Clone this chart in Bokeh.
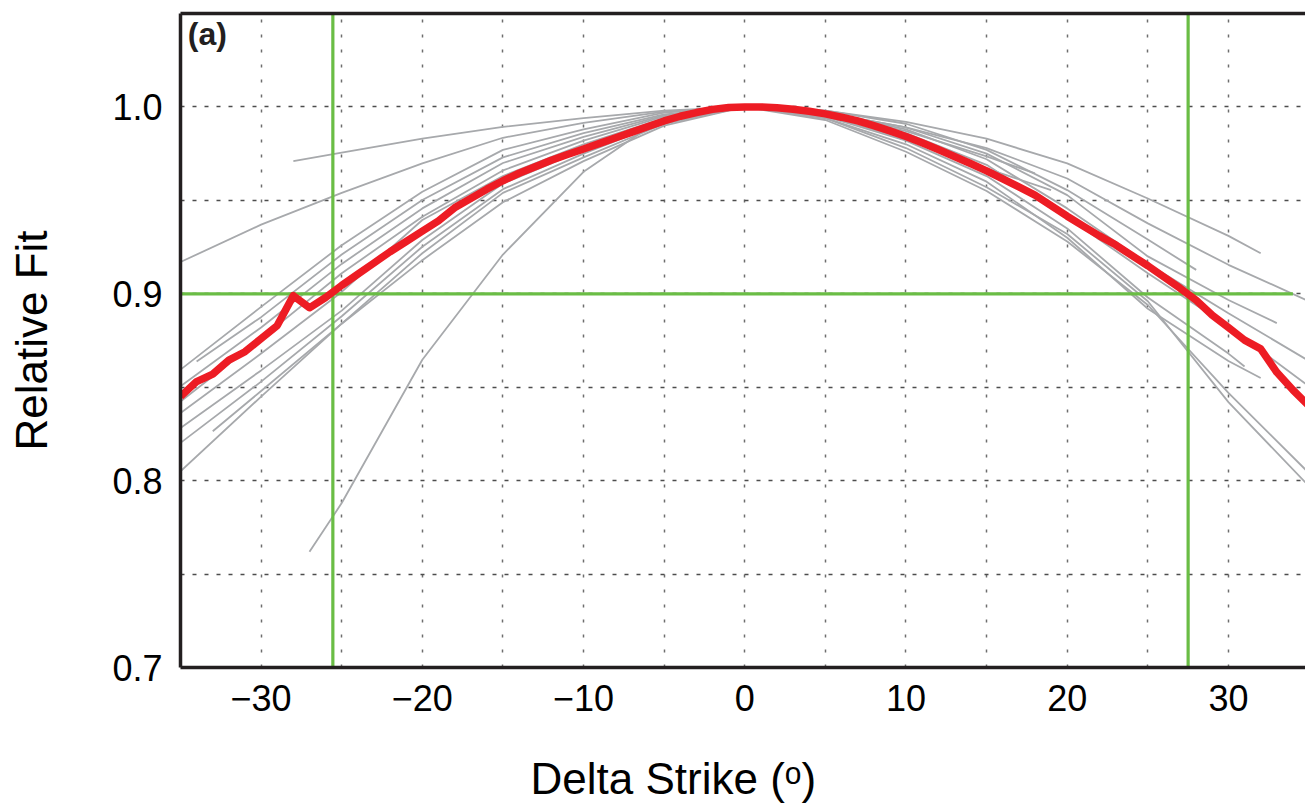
from bokeh.plotting import figure
from bokeh.models import Range1d, FixedTicker, LinearAxis, Label, Title
from bokeh.embed import file_html
from bokeh.resources import INLINE

# ---------------- data ----------------
x_ticks = [-30, -20, -10, 0, 10, 20, 30]
x_tick_labels = ["\u221230", "\u221220", "\u221210", "0", "10", "20", "30"]
y_ticks = [0.7, 0.8, 0.9, 1.0]
y_tick_labels = ["0.7", "0.8", "0.9", "1.0"]
x_grid_ticks = [-30, -25, -20, -15, -10, -5, 0, 5, 10, 15, 20, 25, 30, 35]
y_grid_ticks = [0.75, 0.8, 0.85, 0.9, 0.95, 1.0]
x_title = "Delta Strike (\u1d52)"
y_title = "Relative Fit"

threshold_fit = 0.9
threshold_x = [-35, 34.0]
strike_limits = [-25.55, 27.5]

red_x = list(range(-35, 36))
red_y = [0.845, 0.853, 0.857, 0.8645, 0.869, 0.876, 0.883, 0.899, 0.8925, 0.898,
         0.9045, 0.9105, 0.9165, 0.9225, 0.928, 0.9335, 0.939, 0.946, 0.951, 0.956,
         0.9605, 0.9645, 0.968, 0.9715, 0.9745, 0.9775, 0.9805, 0.9835, 0.9865, 0.9895,
         0.9925, 0.995, 0.997, 0.9987, 0.9997, 1.0, 1.0, 0.9996, 0.9988, 0.9977,
         0.9963, 0.9945, 0.9925, 0.990, 0.9872, 0.9842, 0.9808, 0.9772, 0.9735, 0.9697,
         0.9658, 0.9615, 0.9572, 0.9528, 0.9472, 0.9415, 0.9362, 0.931, 0.9262, 0.9205,
         0.915, 0.909, 0.903, 0.8965, 0.8885, 0.882, 0.8752, 0.8705, 0.858, 0.8485, 0.840]

g1_x = [-28, -25, -20, -15, -10, -5, 0, 5, 10, 15, 20, 25, 30, 32]
g1_y = [0.971, 0.9755, 0.983, 0.9893, 0.994, 0.998, 1.0, 0.998, 0.992, 0.983, 0.9698, 0.951, 0.931, 0.9217]
g2_x = [-35, -30, -25, -20, -15, -10, -5, 0, 5, 10, 15, 20, 25, 30, 35]
g2_y = [0.917, 0.937, 0.954, 0.9698, 0.9835, 0.9915, 0.9975, 1.0, 0.997, 0.989, 0.978, 0.9617, 0.9377, 0.9155, 0.896]
b1_x = [-35, -30, -25, -20, -15, -10, -5, 0, 5, 10, 15, 20, 25, 28]
b1_y = [0.8594, 0.893, 0.926, 0.9546, 0.977, 0.988, 0.997, 1.0, 0.998, 0.991, 0.977, 0.9555, 0.929, 0.9128]
b2_x = [-34, -30, -25, -20, -15, -10, -5, 0, 5, 10, 15, 18]
b2_y = [0.8638, 0.8875, 0.921, 0.9502, 0.973, 0.986, 0.996, 1.0, 0.9965, 0.987, 0.9735, 0.9644]
b3_x = [-35, -30, -25, -20, -15, -10, -5, 0, 5, 10, 15, 20, 25, 30, 33]
b3_y = [0.8505, 0.882, 0.916, 0.9457, 0.970, 0.984, 0.9955, 1.0, 0.997, 0.989, 0.975, 0.9528, 0.920, 0.8967, 0.8843]
b4_x = [-35, -30, -25, -20, -15, -10, -5, 0, 5, 10, 15, 20, 25, 30, 35]
b4_y = [0.8424, 0.876, 0.911, 0.9412, 0.966, 0.982, 0.995, 1.0, 0.997, 0.988, 0.972, 0.9457, 0.916, 0.8896, 0.864]
b5_x = [-35, -30, -25, -20, -15, -10, -5, 0, 5, 10, 15, 20, 25, 30, 35]
b5_y = [0.8362, 0.868, 0.901, 0.9395, 0.963, 0.980, 0.994, 1.0, 0.9965, 0.986, 0.969, 0.941, 0.911, 0.8825, 0.8504]
b6_x = [-33, -30, -25, -20, -15, -10, -5, 0, 5, 10, 15, 19]
b6_y = [0.8264, 0.848, 0.884, 0.918, 0.949, 0.971, 0.990, 1.0, 0.995, 0.983, 0.967, 0.9555]
b7_x = [-35, -30, -25, -20, -15, -10, -5, 0, 5, 10, 15, 20, 25, 30, 31]
b7_y = [0.8282, 0.859, 0.891, 0.9288, 0.959, 0.977, 0.993, 1.0, 0.995, 0.982, 0.963, 0.935, 0.898, 0.868, 0.8611]
b8_x = [-35, -30, -25, -20, -15, -10, -5, 0, 5, 10, 15, 20, 25, 30, 32]
b8_y = [0.8202, 0.853, 0.888, 0.9252, 0.956, 0.975, 0.992, 1.0, 0.994, 0.980, 0.960, 0.930, 0.892, 0.864, 0.8549]
b9_x = [-35, -30, -25, -20, -15, -10, -5, 0, 5, 10, 15, 20, 25, 30, 35]
b9_y = [0.805, 0.845, 0.884, 0.9217, 0.954, 0.973, 0.991, 1.0, 0.994, 0.978, 0.957, 0.932, 0.896, 0.842, 0.797]
st_x = [-27, -25, -20, -15, -10, -5, 0, 5, 10, 15, 20, 25, 30, 35]
st_y = [0.762, 0.788, 0.8647, 0.921, 0.9653, 0.9947, 1.0, 0.993, 0.976, 0.955, 0.928, 0.894, 0.847, 0.804]

grey_curves = [(g1_x, g1_y), (g2_x, g2_y), (b1_x, b1_y), (b2_x, b2_y), (b3_x, b3_y),
               (b4_x, b4_y), (b5_x, b5_y), (b6_x, b6_y), (b7_x, b7_y), (b8_x, b8_y),
               (b9_x, b9_y), (st_x, st_y)]

# ---------------- figure ----------------
FONT = "Liberation Sans"
p = figure(frame_width=1125, frame_height=654,
           x_range=Range1d(-35, 34.78), y_range=Range1d(0.7, 1.05),
           output_backend="svg", toolbar_location=None,
           min_border_left=180, min_border_right=0, min_border_top=13,
           min_border_bottom=10, background_fill_color="white",
           border_fill_color="white")
p.outline_line_color = None

# axes
for ax in (p.xaxis[0], p.yaxis[0]):
    ax.axis_line_color = "#231f20"
    ax.axis_line_width = 3.5
    ax.major_tick_in = 0
    ax.major_tick_out = 0
    ax.minor_tick_in = 0
    ax.minor_tick_out = 0
    ax.major_label_text_font = FONT
    ax.major_label_text_font_size = "36px"
    ax.major_label_text_color = "black"
    ax.axis_label_text_font = FONT
    ax.axis_label_text_font_size = "44px"
    ax.axis_label_text_font_style = "normal"
    ax.axis_label_text_color = "black"

p.xaxis[0].ticker = FixedTicker(ticks=x_ticks)
p.xaxis[0].major_label_overrides = dict(zip(x_ticks, x_tick_labels))
p.xaxis[0].major_label_standoff = 17

p.yaxis[0].ticker = FixedTicker(ticks=y_ticks)
p.yaxis[0].major_label_overrides = dict(zip(y_ticks, y_tick_labels))
p.yaxis[0].major_label_standoff = 18
p.yaxis[0].axis_label = y_title
p.yaxis[0].axis_label_standoff = 53

top_axis = LinearAxis(ticker=FixedTicker(ticks=[]), axis_line_color="#231f20",
                      axis_line_width=3.5, major_tick_in=0, major_tick_out=0,
                      minor_tick_in=0, minor_tick_out=0,
                      major_label_text_font_size="0px")
p.add_layout(top_axis, "above")

# x-axis title: the original panel is cropped on the right, so its title sits left of centre
p.add_layout(Title(text=x_title, align="left", offset=350, standoff=76,
                   text_font=FONT, text_font_size="44px", text_font_style="normal",
                   text_color="black"), "below")

# grid
p.xgrid.ticker = FixedTicker(ticks=x_grid_ticks)
p.ygrid.ticker = FixedTicker(ticks=y_grid_ticks)
p.xgrid.grid_line_color = "#6d6d6d"
p.xgrid.grid_line_width = 1.5
p.xgrid.grid_line_dash = "3 12"
p.ygrid.grid_line_color = "#4d4d4d"
p.ygrid.grid_line_width = 1.3
p.ygrid.grid_line_dash = "4 8"

# grey curves
for cx, cy in grey_curves:
    p.line(cx, cy, line_color="#a7a9ac", line_width=1.8)

# green guide lines
p.line(threshold_x, [threshold_fit, threshold_fit], line_color="#6abd45", line_width=3.2)
for s in strike_limits:
    p.line([s, s], [0.7, 1.05], line_color="#6abd45", line_width=3.2)

# red curve
p.line(red_x, red_y, line_color="#ed1c24", line_width=7.5, line_join="round")

p.add_layout(Label(x=-34.55, y=1.0485, text="(a)", text_font=FONT, text_font_size="32px",
                   text_font_style="bold", text_baseline="top", text_color="#231f20"))

open("out.html", "w").write(file_html(p, INLINE))
